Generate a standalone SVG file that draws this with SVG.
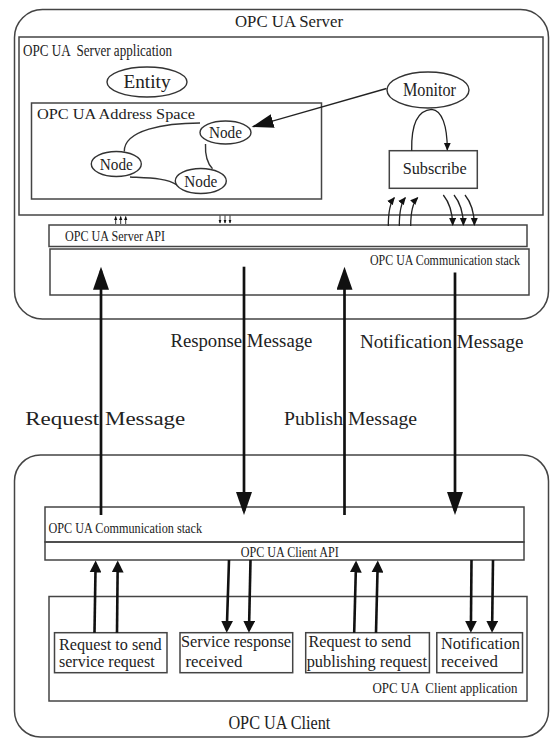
<svg xmlns="http://www.w3.org/2000/svg" width="551" height="740" viewBox="0 0 551 740">
<style>
text{font-family:"Liberation Serif","Times New Roman",serif;fill:#222}
.box{fill:none;stroke:#444;stroke-width:1.5}
.ell{fill:#fff;stroke:#333;stroke-width:1.4}
.big{fill:none;stroke:#111;stroke-width:2.7;marker-end:url(#bigHead)}
.mid{fill:none;stroke:#111;stroke-width:2.6;marker-end:url(#midHead)}
.sm{fill:none;stroke:#222;stroke-width:1.3;marker-end:url(#smHead)}
.tiny{fill:none;stroke:#222;stroke-width:0.9;marker-end:url(#tinyHead)}
.edge{fill:none;stroke:#333;stroke-width:1.4}
.pre{white-space:pre}
</style>
<defs>
<marker id="bigHead" markerUnits="userSpaceOnUse" markerWidth="24" markerHeight="16" refX="19" refY="8" orient="auto"><path d="M0,0 L23,8 L0,16 z" fill="#111"/></marker>
<marker id="midHead" markerUnits="userSpaceOnUse" markerWidth="13" markerHeight="12" refX="9" refY="6" orient="auto"><path d="M0,0 L12,6 L0,12 z" fill="#111"/></marker>
<marker id="smHead" markerUnits="userSpaceOnUse" markerWidth="9" markerHeight="8" refX="7" refY="3.5" orient="auto"><path d="M0,0 L8,3.5 L0,7 z" fill="#111"/></marker>
<marker id="tinyHead" markerUnits="userSpaceOnUse" markerWidth="5" markerHeight="4" refX="3.5" refY="1.6" orient="auto"><path d="M0,0 L4,1.6 L0,3.2 z" fill="#111"/></marker>
<marker id="nodeHead" markerUnits="userSpaceOnUse" markerWidth="23" markerHeight="15" refX="20" refY="7" orient="auto"><path d="M0,0 L22,7 L0,14 z" fill="#111"/></marker>
</defs>
<rect width="551" height="740" fill="#fff"/>

<g id="server">
<rect class="box" x="14.5" y="9.5" width="534" height="309.5" rx="28"/>
<text x="289" y="27" font-size="17" text-anchor="middle" textLength="108" lengthAdjust="spacingAndGlyphs">OPC UA Server</text>
</g>
<g id="server-application">
<rect class="box" x="19" y="37" width="524" height="178"/>
<text class="pre" x="23" y="56" font-size="16" textLength="149" lengthAdjust="spacingAndGlyphs">OPC UA  Server application</text>
</g>
<g id="entity">
<ellipse class="ell" cx="147" cy="82" rx="40" ry="15"/>
<text x="147" y="88" font-size="18" text-anchor="middle" textLength="47" lengthAdjust="spacingAndGlyphs">Entity</text>
</g>
<g id="monitor">
<ellipse class="ell" cx="428" cy="90" rx="41" ry="18"/>
<text x="429.5" y="96" font-size="18" text-anchor="middle" textLength="53" lengthAdjust="spacingAndGlyphs">Monitor</text>
</g>
<g id="address-space">
<rect class="box" x="31.5" y="103" width="290" height="96"/>
<text x="37" y="119" font-size="15.5" textLength="158" lengthAdjust="spacingAndGlyphs">OPC UA Address Space</text>
</g>
<g id="node-top">
<ellipse class="ell" cx="225.5" cy="132.5" rx="25.5" ry="11.5"/>
<text x="225.5" y="137.5" font-size="16" text-anchor="middle" textLength="33" lengthAdjust="spacingAndGlyphs">Node</text>
</g>
<g id="node-left">
<ellipse class="ell" cx="116.3" cy="164" rx="25" ry="12.5"/>
<text x="116.3" y="169.5" font-size="16" text-anchor="middle" textLength="33" lengthAdjust="spacingAndGlyphs">Node</text>
</g>
<g id="node-right">
<ellipse class="ell" cx="200.8" cy="181" rx="25.5" ry="12.5"/>
<text x="200.8" y="186.5" font-size="16" text-anchor="middle" textLength="33" lengthAdjust="spacingAndGlyphs">Node</text>
</g>
<g id="subscribe">
<rect class="box" x="389.3" y="150.7" width="88" height="37.6"/>
<text x="434.7" y="174" font-size="17" text-anchor="middle" textLength="64" lengthAdjust="spacingAndGlyphs">Subscribe</text>
</g>
<g id="server-api">
<rect class="box" x="49" y="225" width="478" height="21.5"/>
<text x="65" y="241" font-size="15" textLength="100" lengthAdjust="spacingAndGlyphs">OPC UA Server API</text>
</g>
<g id="server-comm-stack">
<rect class="box" x="50" y="249" width="479" height="46"/>
<text x="370" y="265" font-size="14" textLength="150" lengthAdjust="spacingAndGlyphs">OPC UA Communication stack</text>
</g>

<g id="client">
<rect class="box" x="14.5" y="455" width="534" height="282" rx="26"/>
<text x="279.4" y="729" font-size="18" text-anchor="middle" textLength="102" lengthAdjust="spacingAndGlyphs">OPC UA Client</text>
</g>
<g id="client-comm-stack">
<rect class="box" x="45" y="507" width="479" height="35"/>
<text x="48.5" y="533" font-size="15" textLength="153.5" lengthAdjust="spacingAndGlyphs">OPC UA Communication stack</text>
</g>
<g id="client-api">
<rect class="box" x="45" y="542" width="479" height="18"/>
<text x="240.7" y="556.5" font-size="15" textLength="98" lengthAdjust="spacingAndGlyphs">OPC UA Client API</text>
</g>
<g id="client-application">
<rect class="box" x="49" y="596.5" width="478" height="104.5"/>
<text class="pre" x="372.5" y="693" font-size="15" textLength="145" lengthAdjust="spacingAndGlyphs">OPC UA  Client application</text>
</g>
<g id="req-service">
<rect class="box" x="54.5" y="632.7" width="112.5" height="40"/>
<text x="59" y="650" font-size="16" textLength="102.6" lengthAdjust="spacingAndGlyphs">Request to send</text>
<text x="59" y="667" font-size="16" textLength="95.6" lengthAdjust="spacingAndGlyphs">service request</text>
</g>
<g id="service-response">
<rect class="box" x="180" y="632.7" width="112.7" height="40"/>
<text x="181" y="647" font-size="16" textLength="110" lengthAdjust="spacingAndGlyphs">Service response</text>
<text x="185.5" y="667" font-size="16" textLength="57" lengthAdjust="spacingAndGlyphs">received</text>
</g>
<g id="req-publish">
<rect class="box" x="305.7" y="632.7" width="123.7" height="40"/>
<text x="308.5" y="647" font-size="16" textLength="102.5" lengthAdjust="spacingAndGlyphs">Request to send</text>
<text x="306.7" y="667" font-size="16" textLength="120.3" lengthAdjust="spacingAndGlyphs">publishing request</text>
</g>
<g id="notification">
<rect class="box" x="436.8" y="632.7" width="85.7" height="40"/>
<text x="441" y="649" font-size="16" textLength="79" lengthAdjust="spacingAndGlyphs">Notification</text>
<text x="441" y="667" font-size="16" textLength="57" lengthAdjust="spacingAndGlyphs">received</text>
</g>

<g id="connectors">
<path class="edge" d="M200,123 C165,123 124,130 124.3,151.5"/>
<path class="edge" d="M205.5,144 C205,155 207,163 212.5,168.8"/>
<path class="edge" d="M130,177 C150,178 167,178 177,185"/>
<path fill="none" stroke="#222" stroke-width="1.4" marker-end="url(#nodeHead)" d="M386.5,88.5 L253.5,126.5"/>
<path class="sm" d="M411.7,150.7 C411,121 420,110 431.7,109.3 C442,110 447.3,126 447.3,149.7"/>
<path class="sm" d="M388.3,226 C388.3,212 390,203 394.3,197.7"/>
<path class="sm" d="M399.3,226 C399.3,212 401,203 405.3,197.7"/>
<path class="sm" d="M410.7,226 C410.7,212 412.4,203 417.6,197.7"/>
<path class="sm" d="M443.3,195 C449,202 452.5,212 452.7,225"/>
<path class="sm" d="M454,195 C459.7,202 463.2,212 463.4,225"/>
<path class="sm" d="M465,195 C470.7,202 474.2,212 474.4,225"/>
<path class="tiny" d="M115.7,224 L115.7,216.5"/>
<path class="tiny" d="M120.7,224 L120.7,216.5"/>
<path class="tiny" d="M125.7,224 L125.7,216.5"/>
<path class="tiny" d="M220,215.5 L220,223"/>
<path class="tiny" d="M225,215.5 L225,223"/>
<path class="tiny" d="M230,215.5 L230,223"/>
<path class="big" d="M101,515 L101,270.7"/>
<path class="big" d="M244,266.7 L244,511"/>
<path class="big" d="M344.5,515 L344.5,270.7"/>
<path class="big" d="M455,272.5 L455,511"/>
<path class="mid" d="M94.5,632.7 L95.6,563.5"/>
<path class="mid" d="M117,632.7 L117.7,563.5"/>
<path class="mid" d="M229,560 L226.8,629.7"/>
<path class="mid" d="M250.5,560 L249,629.7"/>
<path class="mid" d="M354.2,632.7 L356,563.5"/>
<path class="mid" d="M376,632.7 L377.7,563.5"/>
<path class="mid" d="M471.5,560 L470.9,629.7"/>
<path class="mid" d="M493,560 L492.1,629.7"/>
<text x="170.4" y="346.7" font-size="18" textLength="142" lengthAdjust="spacingAndGlyphs">Response Message</text>
<text x="360" y="348" font-size="18" textLength="163.5" lengthAdjust="spacingAndGlyphs">Notification Message</text>
<text x="25.3" y="425" font-size="18" textLength="160" lengthAdjust="spacingAndGlyphs">Request Message</text>
<text x="284" y="425" font-size="18" textLength="133" lengthAdjust="spacingAndGlyphs">Publish Message</text>
</g>
</svg>
